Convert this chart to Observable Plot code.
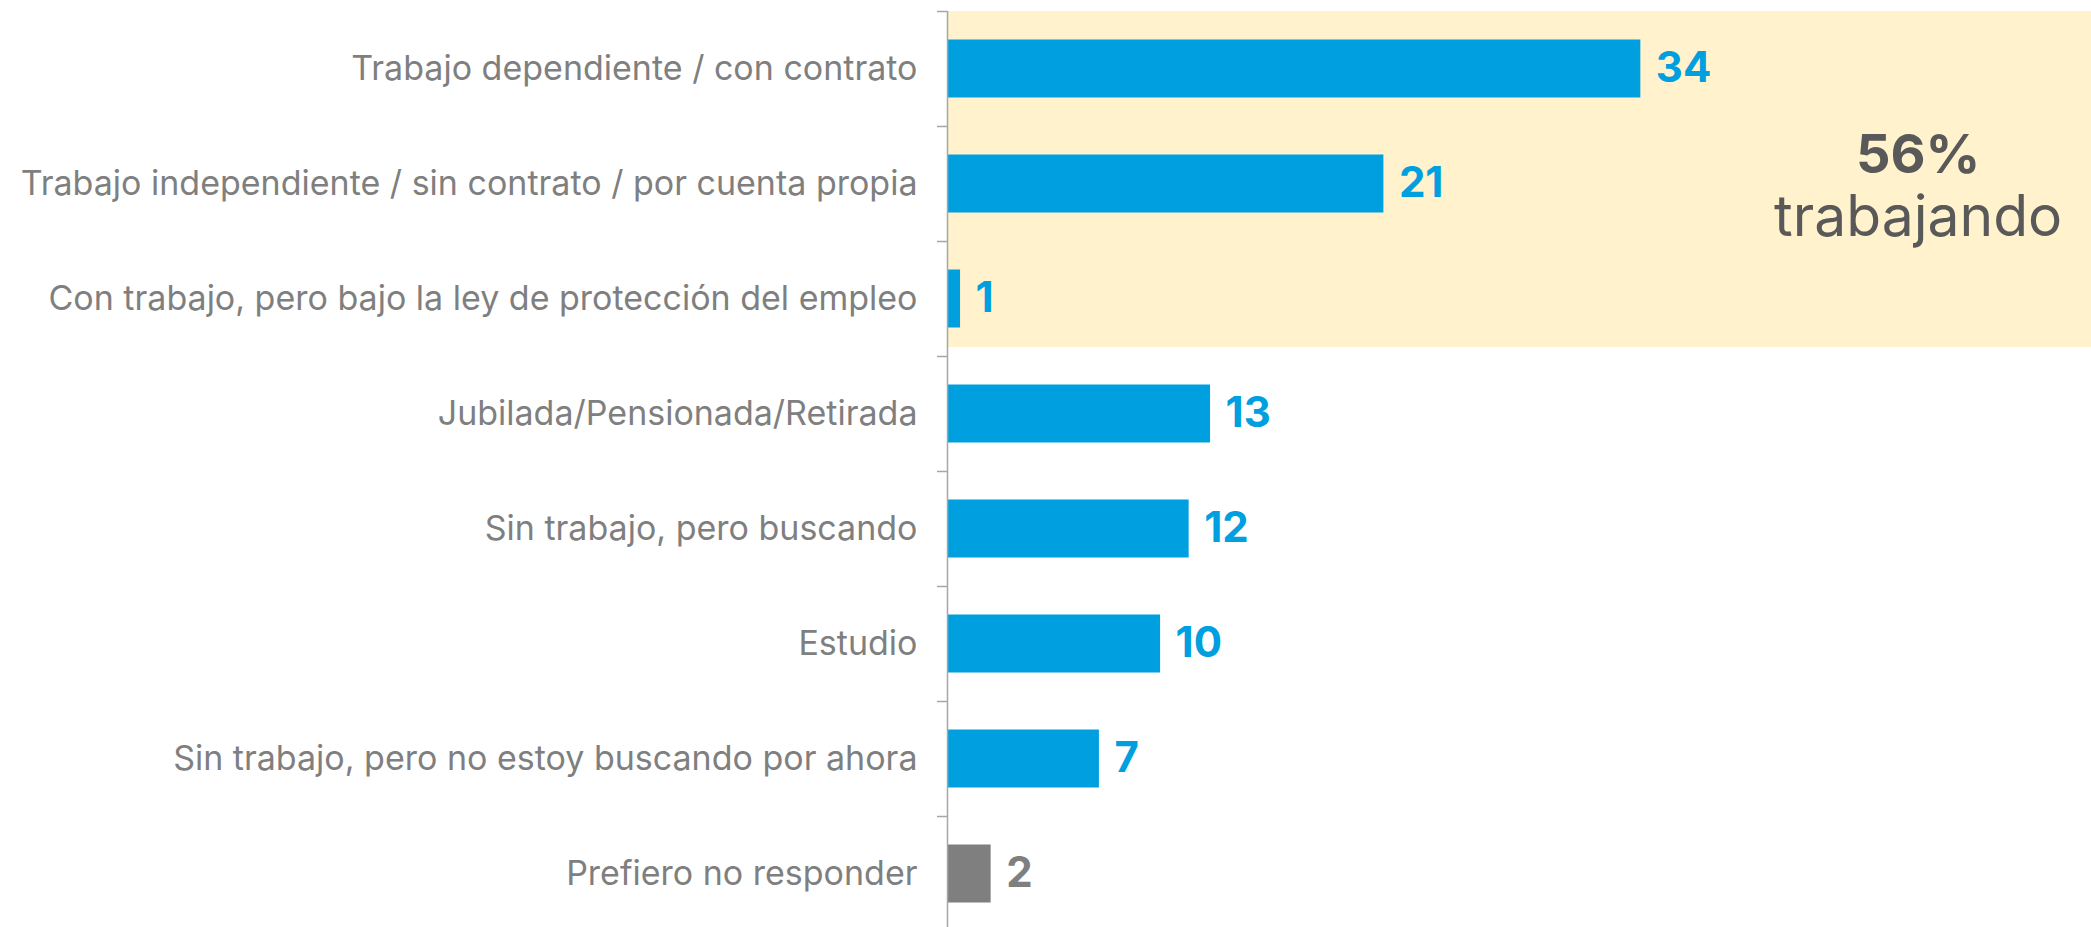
<!DOCTYPE html>
<html><head><meta charset="utf-8">
<script src="https://cdn.jsdelivr.net/npm/d3@7"></script>
<script src="https://cdn.jsdelivr.net/npm/@observablehq/plot@0.6"></script>
<style>
  html, body { margin: 0; padding: 0; background: #ffffff; }
  #chart svg { display: block; }
</style>
</head><body>
<div id="chart"></div>
<script>
// ---- Data ----
const categories = [
  "Trabajo dependiente / con contrato",
  "Trabajo independiente / sin contrato / por cuenta propia",
  "Con trabajo, pero bajo la ley de protección del empleo",
  "Jubilada/Pensionada/Retirada",
  "Sin trabajo, pero buscando",
  "Estudio",
  "Sin trabajo, pero no estoy buscando por ahora",
  "Prefiero no responder"
];
// bar lengths (unrounded estimates)
const values = [34.0, 21.4, 0.64, 12.9, 11.85, 10.45, 7.45, 2.14];
// value labels as printed
const valueLabels = ["34", "21", "1", "13", "12", "10", "7", "2"];
const groups = ["trabajo", "trabajo", "trabajo", "otro", "otro", "otro", "otro", "nr"];
const workingCategories = categories.slice(0, 3);
const annotationLabels = ["56%", "trabajando"];

// ---- Styles ----
const FONT = "Inter, 'Open Sans', sans-serif";
const colorByGroup = { trabajo: "#009fdf", otro: "#009fdf", nr: "#7f7f7f" };
const xMax = 56.1;
const W = 2091, H = 927;
const axisX = 947;
const pxPerUnit = (W - axisX) / xMax;

const data = categories.map((c, i) => ({ cat: c, value: values[i], label: valueLabels[i], group: groups[i] }));
const highlightFull = workingCategories.slice(0, 2).map(c => ({ cat: c }));
const highlightLast = workingCategories.slice(2).map(c => ({ cat: c }));
const annotations = [
  { text: annotationLabels[0], size: 54, weight: 700, dy: -28, fill: "#595959" },
  { text: annotationLabels[1], size: 57, weight: 400, dy: 34, fill: "#595959" }
];

const yRange = [11, 931];
const bandwidth = (yRange[1] - yRange[0]) / categories.length;

const chart = Plot.plot({
  width: W,
  height: H,
  marginLeft: axisX,
  marginRight: 0,
  marginTop: 11,
  marginBottom: 0,
  style: { fontFamily: FONT, background: "#ffffff", overflow: "visible" },
  x: { domain: [0, xMax], axis: null },
  y: { domain: categories, range: yRange, padding: 0, axis: null },
  marks: [
    // highlight area for "working" categories
    Plot.barX(highlightFull, { y: "cat", x1: 0, x2: xMax, fill: "#fff2cc", inset: 0 }),
    Plot.barX(highlightLast, { y: "cat", x1: 0, x2: xMax, fill: "#fff2cc", inset: 0, insetBottom: 9 }),
    // bars
    Plot.barX(data, {
      y: "cat", x: "value",
      fill: d => colorByGroup[d.group],
      insetTop: 28.5, insetBottom: 28.5
    }),
    // value labels
    Plot.text(data, {
      y: "cat", x: "value",
      text: "label",
      dx: 15, textAnchor: "start",
      fill: d => colorByGroup[d.group],
      fontSize: 42, fontWeight: 700
    }),
    // category labels
    Plot.text(data, {
      y: "cat", x: 0,
      text: "cat",
      dx: -30, textAnchor: "end",
      fill: "#7f7f7f",
      fontSize: 34
    }),
    // axis line
    Plot.ruleX([0], { y1: 0, y2: 0, stroke: "none" }),
    Plot.ruleX([0], { stroke: "#a6a6a6", strokeWidth: 1.5 }),
    // tick marks at band boundaries
    Plot.ruleY(categories, { y: d => d, x1: -10 / pxPerUnit, x2: 0, dy: -bandwidth / 2, stroke: "#a6a6a6", strokeWidth: 1.5 }),
    // annotation
    ...annotations.map(a => Plot.text([a], {
      x: 47.6, y: () => categories[1],
      text: "text",
      dy: a.dy,
      fill: a.fill,
      fontSize: a.size,
      fontWeight: a.weight
    }))
  ]
});

document.getElementById("chart").appendChild(chart);
</script>
</body></html>
